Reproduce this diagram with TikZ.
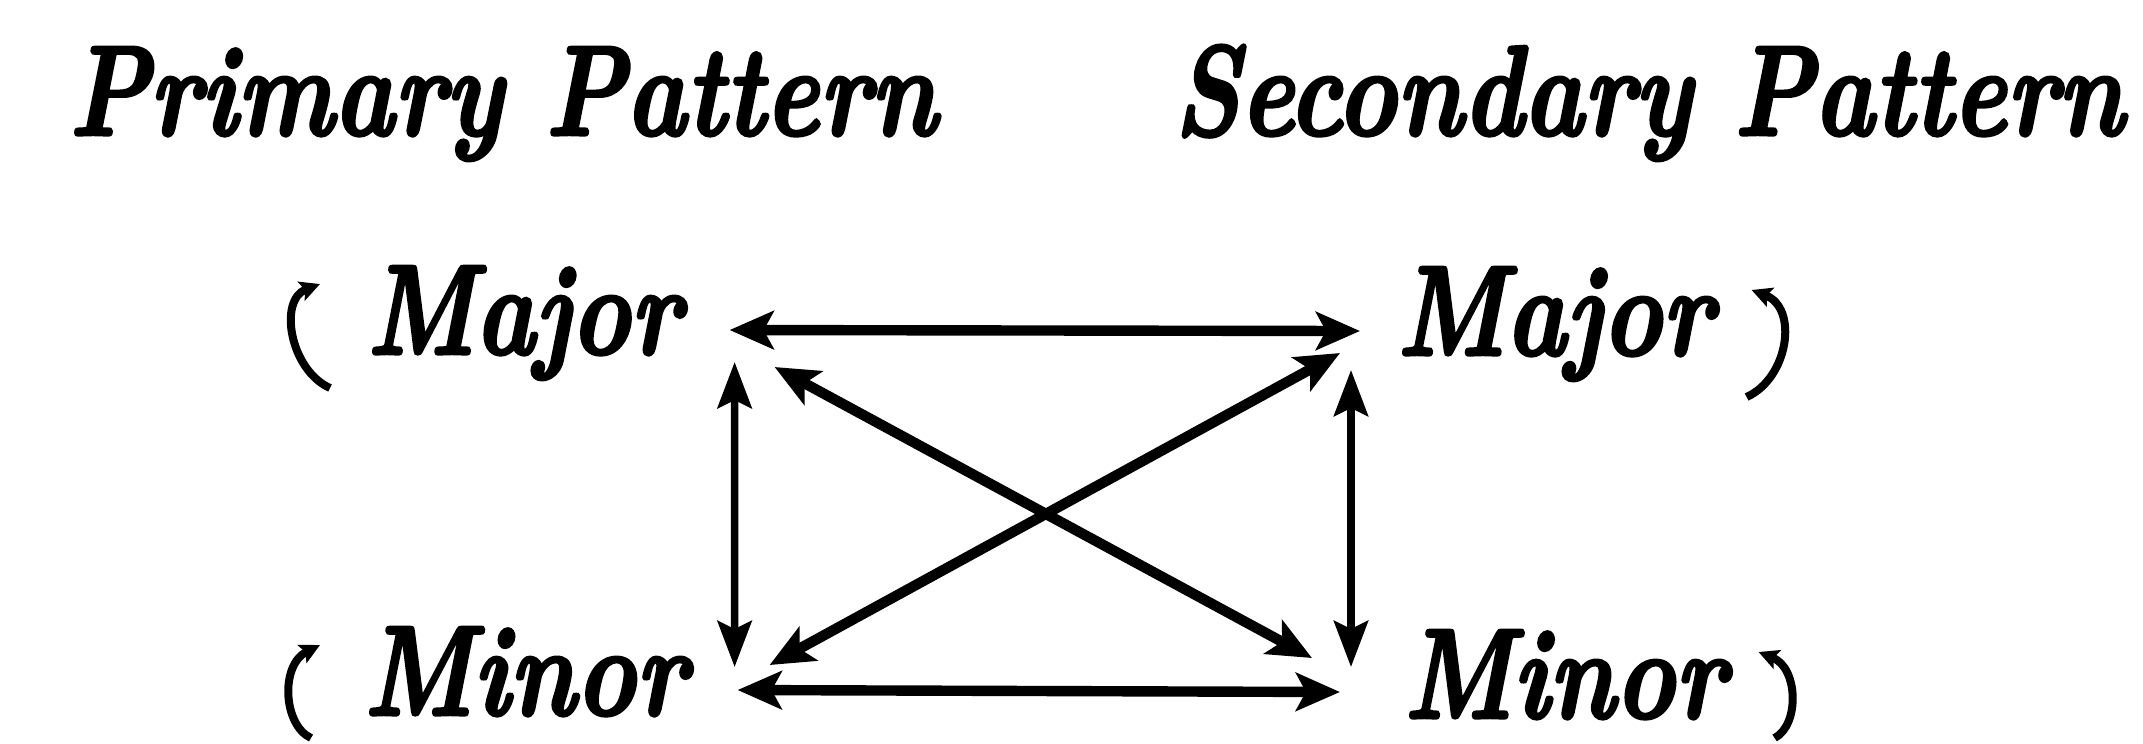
\documentclass[tikz,border=0pt]{standalone}
\usepackage{fontspec}
\usepackage{graphicx}
\newfontfamily\bifont[FakeBold=2.5]{lmroman10-bolditalic.otf}
\usetikzlibrary{arrows.meta,calc}
\newcommand{\fitw}[2]{\resizebox{#1}{\height}{#2}}
\begin{document}
\begin{tikzpicture}[x=0.25pt,y=-0.25pt,
  lbl/.style={inner sep=0pt, anchor=base west, font=\fontsize{32}{36}\selectfont\bifont},
  arr/.style={line width=2.6pt, {Stealth[length=11pt,width=9.5pt,inset=2.5pt]}-{Stealth[length=11pt,width=9.5pt,inset=2.5pt]}},
  varr/.style={line width=1.9pt, {Stealth[length=11.5pt,width=8.5pt,inset=2pt]}-{Stealth[length=11.5pt,width=8.5pt,inset=2pt]}},
  loop/.style={line width=2pt, -{Stealth[length=5pt,width=5pt,inset=1pt]}}]
\useasboundingbox[fill=white] (0,0) rectangle (2143,743);

\node[lbl] (t1) at (68,135) {\fitw{217pt}{Primary Pattern}};
\node[lbl] (t2) at (1173,135) {\fitw{237.5pt}{Secondary Pattern}};

\node[lbl] (LMaj) at (366,354) {\fitw{78.5pt}{Major}};
\node[lbl] (RMaj) at (1396,355) {\fitw{79pt}{Major}};
\node[lbl] (LMin) at (363,715) {\fitw{80.75pt}{Minor}};
\node[lbl] (RMin) at (1403,718) {\fitw{80.5pt}{Minor}};

% horizontal
\draw[arr] ($(LMaj.base east)+(48,-24)$) -- ($(RMaj.base west)+(-36,-24)$);
\draw[arr] ($(LMin.base east)+(50,-25)$) -- ($(RMin.base west)+(-63,-26)$);
% vertical
\draw[varr] ($(LMaj.base east)+(53,8)$) -- ($(LMin.base east)+(47,-48)$);
\draw[varr] ($(RMaj.base west)+(-45,15)$) -- ($(RMin.base west)+(-52,-51)$);
% diagonals
\draw[arr] ($(LMaj.base east)+(93,13)$) -- ($(RMin.base west)+(-91,-60)$);
\draw[arr] ($(LMin.base east)+(82,-50)$) -- ($(RMaj.base west)+(-56,-2)$);

% self loops
\draw[loop] ($(LMaj.base west)+(-36,34)$) .. controls ($(LMaj.base west)+(-76,16)$) and ($(LMaj.base west)+(-88,-54)$) .. ($(LMaj.base west)+(-46,-70)$);
\draw[loop] ($(RMaj.base east)+(33,42)$) .. controls ($(RMaj.base east)+(75,23)$) and ($(RMaj.base east)+(85,-47)$) .. ($(RMaj.base east)+(38,-65)$);
\draw[loop] ($(LMin.base west)+(-52,23)$) .. controls ($(LMin.base west)+(-80,10)$) and ($(LMin.base west)+(-83,-50)$) .. ($(LMin.base west)+(-43,-70)$);
\draw[loop] ($(RMin.base east)+(48,20)$) .. controls ($(RMin.base east)+(73,7)$) and ($(RMin.base east)+(72,-50)$) .. ($(RMin.base east)+(32,-66)$);
\end{tikzpicture}
\end{document}
